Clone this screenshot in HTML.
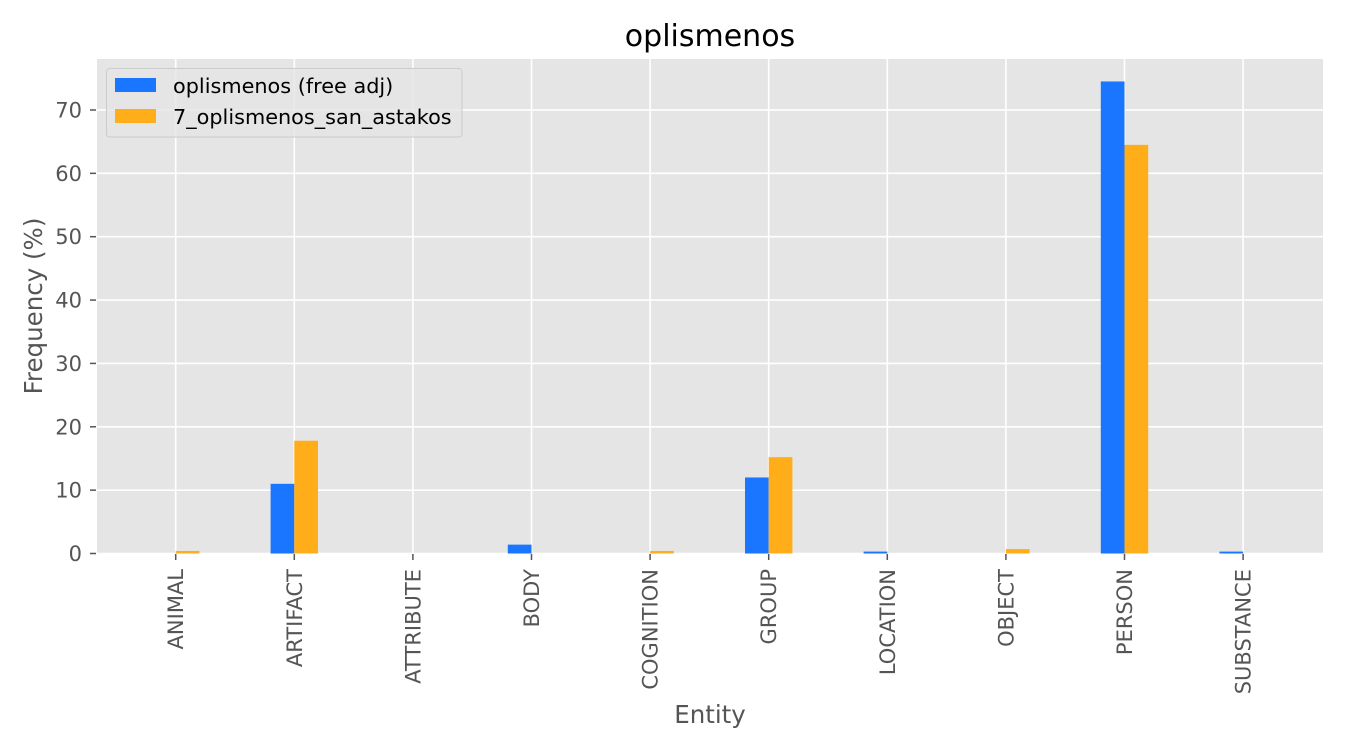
<!DOCTYPE html>
<html><head><meta charset="utf-8"><style>
body{margin:0;background:#fff;}
svg{display:block;font-family:"DejaVu Sans","Liberation Sans",sans-serif;}
</style></head><body>
<svg id="chart" width="1350" height="750">
<rect x="97" y="59" width="1226" height="494.5" fill="#e5e5e5"/>
<g id="grid"></g><g id="bars"></g><g id="axes"></g>
<text x="710" y="46" font-size="30" text-anchor="middle" fill="#000">oplismenos</text>
<text x="710" y="723" font-size="24.5" text-anchor="middle" fill="#555">Entity</text>
<text transform="translate(42,306) rotate(-90)" font-size="24.5" text-anchor="middle" fill="#555">Frequency (%)</text>
<g>
<rect x="106.5" y="68.5" width="355.5" height="68.5" rx="3" fill="#e5e5e5" fill-opacity="0.8" stroke="#ccc"/>
<rect x="115" y="78" width="41" height="14" fill="#1a75ff"/>
<text x="173" y="93" font-size="20.8" fill="#000">oplismenos (free adj)</text>
<rect x="115" y="109" width="41" height="14" fill="#ffae1a"/>
<text x="173" y="124" font-size="20.8" fill="#000">7_oplismenos_san_astakos</text>
</g>
</svg>
<script>
const categories=["ANIMAL","ARTIFACT","ATTRIBUTE","BODY","COGNITION","GROUP","LOCATION","OBJECT","PERSON","SUBSTANCE"];
const freeAdj=[0,11,0,1.4,0,12,0.3,0,74.5,0.3];
const sanAstakos=[0.4,17.8,0,0,0.4,15.2,0,0.7,64.5,0];
const yTicks=[0,10,20,30,40,50,60,70];
const NS="http://www.w3.org/2000/svg";
function x(i){return 175.7+118.6*i;}
function y(v){return 553.5-v*6.336;}
function mk(tag,attrs,parent){const e=document.createElementNS(NS,tag);for(const k in attrs)e.setAttribute(k,attrs[k]);parent.appendChild(e);return e;}
const grid=document.getElementById('grid'),bars=document.getElementById('bars'),axes=document.getElementById('axes');
yTicks.forEach(t=>{
 const l=mk('line',{x1:97,x2:1323,y1:y(t),y2:y(t),stroke:'#fff','stroke-width':1.6},grid);
 
 
 const tk=mk('line',{x1:90,x2:96,y1:y(t),y2:y(t),stroke:'#555','stroke-width':1.5},axes);
 
 
 const tx=mk('text',{x:82,y:y(t)+7.5,'font-size':21,'text-anchor':'end',fill:'#555'},axes);
 tx.textContent=t;
 
 
});
const bw=23.7;
categories.forEach((c,i)=>{
 const l=mk('line',{x1:x(i),x2:x(i),y1:59,y2:553.5,stroke:'#fff','stroke-width':1.6},grid);
 
 
 const b1=mk('rect',{x:x(i)-bw,y:y(freeAdj[i]),width:bw,height:553.5-y(freeAdj[i]),fill:'#1a75ff'},bars);
 
 
 const b2=mk('rect',{x:x(i),y:y(sanAstakos[i]),width:bw,height:553.5-y(sanAstakos[i]),fill:'#ffae1a'},bars);
 
 
 const tk=mk('line',{x1:x(i),x2:x(i),y1:554,y2:560,stroke:'#555','stroke-width':1.5},axes);
 
 
 const tx=mk('text',{transform:`translate(${x(i)+7.5},569) rotate(-90)`,'font-size':21,'text-anchor':'end',fill:'#555'},axes);
 tx.textContent=c;
 
 
});
</script>
</body></html>
